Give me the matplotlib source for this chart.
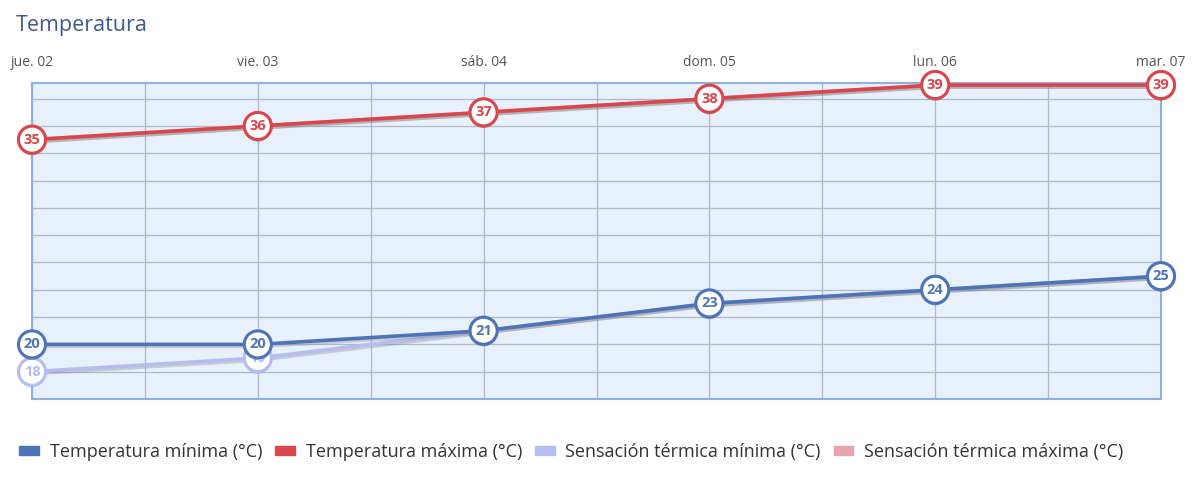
import matplotlib
matplotlib.use("Agg")
import matplotlib.pyplot as plt
import matplotlib.patheffects as pe
from matplotlib.patches import Patch

days = ["jue. 02", "vie. 03", "sáb. 04", "dom. 05", "lun. 06", "mar. 07"]
temp_min = [20, 20, 21, 23, 24, 25]
temp_max = [35, 36, 37, 38, 39, 39]
sens_min = [18, 19, 21, 23, 24, 25]
sens_max = [35, 36, 37, 38, 39, 39]

series = [
    ("Sensación térmica máxima (°C)", sens_max, "#e9a3ad"),
    ("Sensación térmica mínima (°C)", sens_min, "#b4bcf0"),
    ("Temperatura máxima (°C)", temp_max, "#d9464b"),
    ("Temperatura mínima (°C)", temp_min, "#4d74b6"),
]
legend_order = [3, 2, 1, 0]

plt.rcParams['font.family'] = ['Open Sans', 'DejaVu Sans']

fig = plt.figure(figsize=(12, 4.9), dpi=100)
ax = fig.add_axes([32/1200, 1-399/490, (1161-32)/1200, (399-83)/490])
ax.set_facecolor("#e8f0fb")
x = list(range(len(days)))

for i, (name, vals, col) in enumerate(series):
    shadow = [pe.SimpleLineShadow(offset=(0, -1.5), shadow_color="#888888", alpha=0.35), pe.Normal()]
    ax.plot(x, vals, color=col, lw=2.6, zorder=3 + i * 2, path_effects=shadow,
            solid_capstyle='round', clip_on=False)
    ax.scatter(x, vals, s=380, facecolor="white", edgecolor=col, linewidth=2.2, zorder=4 + i * 2,
               clip_on=False,
               path_effects=[pe.SimplePatchShadow(offset=(0, -1.5), alpha=0.25), pe.Normal()])
    for xi, v in zip(x, vals):
        ax.text(xi, v, str(v), ha="center", va="center", fontsize=10.5, fontweight="bold",
                color=col, zorder=4 + i * 2, clip_on=False)

ax.set_xlim(0, 5)
ax.set_ylim(16, 39.15)
ax.set_xticks(x)
ax.set_xticks([i + 0.5 for i in range(5)], minor=True)
ax.set_yticks(range(16, 40, 2))
ax.grid(True, which="both", color="#adb8ca", lw=0.9, zorder=0)
ax.tick_params(axis="y", left=False, labelleft=False)
ax.tick_params(axis="x", which="both", bottom=False, top=False, labelbottom=False, labeltop=True,
               labelsize=10, labelcolor="#555555", pad=6)
ax.set_xticklabels(days)
for s in ax.spines.values():
    s.set_color("#8fb0dd")
    s.set_linewidth(1.5)
    s.set_zorder(2)
ax.set_axisbelow(True)

fig.text(16/1200, 1-25/490, "Temperatura", fontsize=15.5, color="#3b5b8e", ha="left", va="center")

handles = [Patch(facecolor=series[i][2], edgecolor=series[i][2]) for i in legend_order]
labels = [series[i][0] for i in legend_order]
fig.legend(handles, labels, loc="center left", bbox_to_anchor=(3/1200, 1-452/490), ncol=4,
           frameon=False, fontsize=13, handlelength=1.1, handleheight=0.45, handletextpad=0.6,
           columnspacing=0.7, labelcolor="#333333")

fig.savefig("out.png", dpi=100, facecolor="white")
